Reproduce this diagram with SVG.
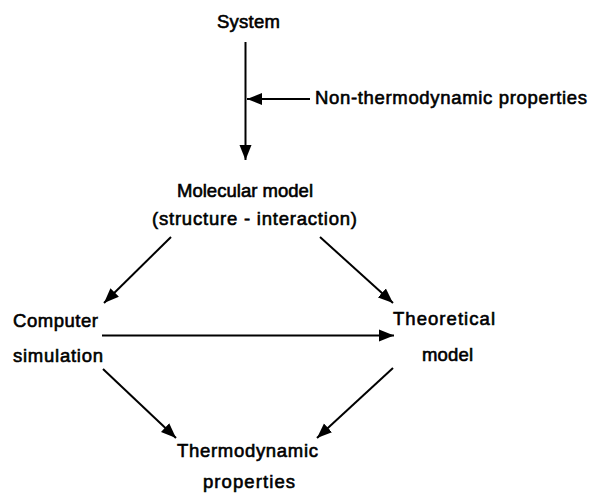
<svg xmlns="http://www.w3.org/2000/svg" width="600" height="494" viewBox="0 0 600 494">
<style>
text{font-family:"Liberation Sans",Arial,sans-serif;font-size:18.5px;fill:#000;stroke:#000;stroke-width:0.6}
.c{text-anchor:middle}
.ln{stroke:#000;stroke-width:2;fill:none}
</style>
<defs>
<marker id="ah" markerUnits="userSpaceOnUse" markerWidth="16" markerHeight="13" refX="15" refY="6.5" orient="auto">
<path d="M0,0.5 L15,6.5 L0,12.5 Z" fill="#000"/>
</marker>
</defs>
<rect width="600" height="494" fill="#fff"/>
<g id="connectors">
<line class="ln" x1="245.5" y1="42" x2="245.5" y2="160" marker-end="url(#ah)"/>
<line class="ln" x1="310" y1="99" x2="247" y2="99" marker-end="url(#ah)"/>
<line class="ln" x1="171" y1="237" x2="104" y2="303" marker-end="url(#ah)"/>
<line class="ln" x1="320" y1="237" x2="393" y2="303" marker-end="url(#ah)"/>
<line class="ln" x1="102" y1="335.5" x2="394" y2="335.5" marker-end="url(#ah)"/>
<line class="ln" x1="103" y1="369" x2="176" y2="438" marker-end="url(#ah)"/>
<line class="ln" x1="393" y1="368" x2="317" y2="438" marker-end="url(#ah)"/>
</g>
<g id="system"><text class="c" x="248.5" y="28" textLength="63" lengthAdjust="spacing">System</text></g>
<g id="nonthermo"><text x="315" y="104" textLength="272" lengthAdjust="spacing">Non-thermodynamic properties</text></g>
<g id="molecular"><text class="c" x="245" y="197" textLength="136" lengthAdjust="spacing">Molecular model</text>
<text class="c" x="254.5" y="225" textLength="205" lengthAdjust="spacing">(structure - interaction)</text></g>
<g id="computer"><text x="13" y="327" textLength="85" lengthAdjust="spacing">Computer</text>
<text x="13" y="362" textLength="90" lengthAdjust="spacing">simulation</text></g>
<g id="theoretical"><text x="393" y="325" textLength="102" lengthAdjust="spacing">Theoretical</text>
<text x="422" y="361" textLength="51" lengthAdjust="spacing">model</text></g>
<g id="thermo"><text x="177" y="457" textLength="141" lengthAdjust="spacing">Thermodynamic</text>
<text x="203" y="488" textLength="92" lengthAdjust="spacing">properties</text></g>
</svg>
